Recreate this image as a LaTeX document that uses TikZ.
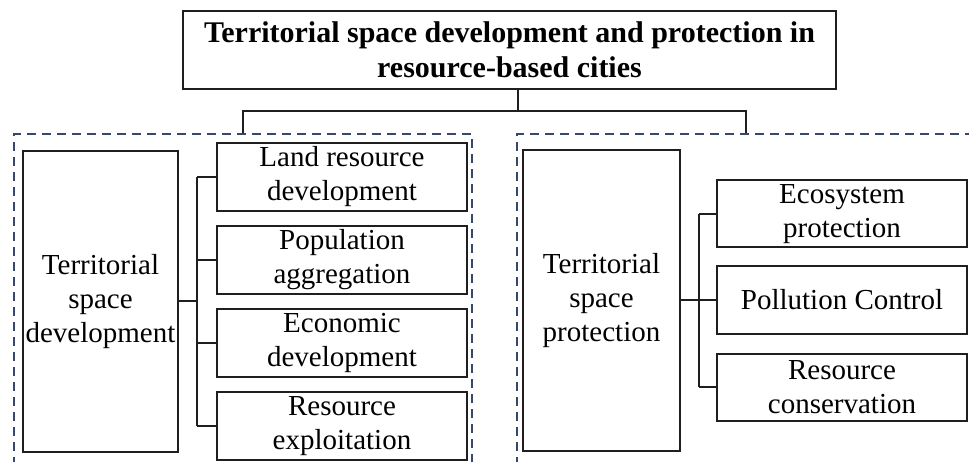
\documentclass[tikz,border=0pt]{standalone}
\usepackage{fontspec}
\setmainfont{Liberation Serif}
\definecolor{dashblue}{RGB}{52,72,112}
\tikzset{
	box/.style={draw=black!88, line width=2pt, align=center, inner sep=0pt, font=\fontsize{29}{34}\selectfont},
	group/.style={draw=dashblue, line width=1.8pt, dash pattern=on 9pt off 6pt, inner sep=0pt},
	link/.style={draw=black!88, line width=2pt}
}
\begin{document}
\begin{tikzpicture}[x=1pt, y=-1pt]
		\useasboundingbox (0,0) rectangle (969,462);
		\clip (0,0) rectangle (969,462);
		\node[box, minimum width=653pt, minimum height=78pt, font=\fontsize{30}{35}\selectfont\bfseries] (title) at (509.5,49.7) {Territorial space development and protection in\\resource-based cities};
		\node[group, minimum width=458pt, minimum height=336pt] (gdev) at (243,302) {};
		\node[group, minimum width=458pt, minimum height=336pt] (gpro) at (746,302) {};
		\coordinate (jt) at (518,111);
		\draw[link] (title.south -| jt) -- (jt);
		\draw[link] (gdev.north) |- (jt) -| (gpro.north);
		%
		% development
		%
		\node[box, minimum width=155pt, minimum height=301pt] (dev) at (100.5,301.5) {Territorial\\space\\development};
		\coordinate (bd) at (197,0);
		\foreach \y/\t [count=\n] in {177/{Land resource\\development},260/{Population\\aggregation},343/{Economic\\development},426/{Resource\\exploitation}}{
			\node[box, minimum width=250pt, minimum height=68pt] (dl\n) at (342,\y) {\t};
			\draw[link] (dl\n.west) -- (dl\n.west -| bd);
		}
		\draw[link] (dev.east) -- (dev.east -| bd);
		\draw[link] (bd |- dl1.west) -- (bd |- dl4.west);
		%
		% protection
		%
		\node[box, minimum width=157pt, minimum height=301pt] (pro) at (601.5,300.5) {Territorial\\space\\protection};
		\coordinate (bp) at (699,0);
		\foreach \y/\t [count=\n] in {214/{Ecosystem\\protection},300/{Pollution Control},387/{Resource\\conservation}}{
			\node[box, minimum width=250pt, minimum height=67pt] (pl\n) at (842,\y) {\t};
			\draw[link] (pl\n.west) -- (pl\n.west -| bp);
		}
		\draw[link] (pro.east) -- (pro.east -| bp);
		\draw[link] (bp |- pl1.west) -- (bp |- pl3.west);
	\end{tikzpicture}
\end{document}
